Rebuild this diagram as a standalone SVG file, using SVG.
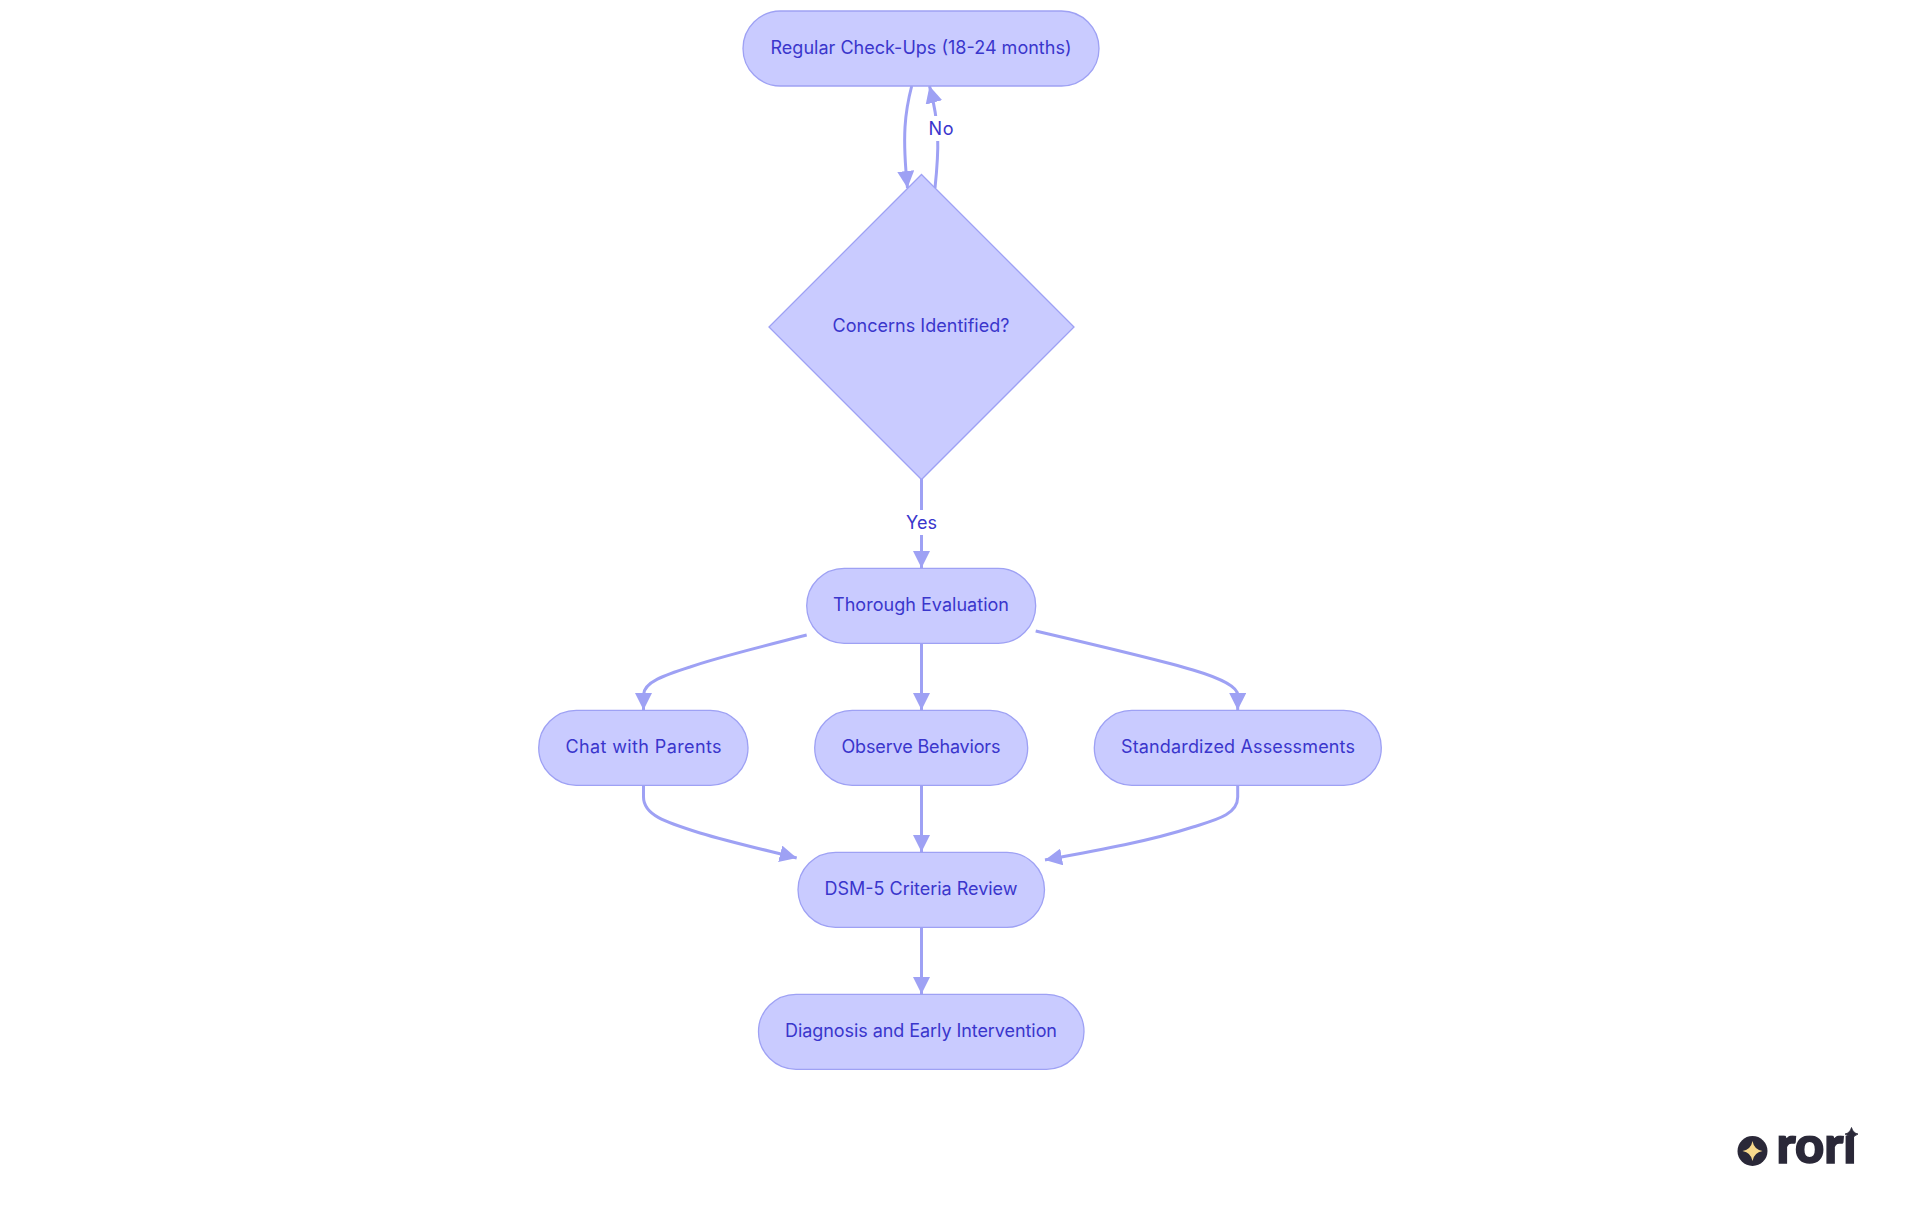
<svg xmlns="http://www.w3.org/2000/svg" width="1920" height="1215" viewBox="0 0 1920 1215">
<style>
.n{fill:#c9cbff;stroke:#9ea1f4;stroke-width:1.3}
.t{font-family:"Inter","Noto Sans","Liberation Sans",sans-serif;font-size:18px;fill:#3a36cc;text-anchor:middle}
.e{fill:none;stroke:#9ea1f4;stroke-width:3}
.b{fill:#fff}
</style>
<defs>
<marker id="a" markerUnits="userSpaceOnUse" viewBox="0 0 17 17" refX="17" refY="8.5" markerWidth="17" markerHeight="17" orient="auto"><path d="M0 0L17 8.500L0 17z" fill="#9ea1f4"/></marker>
<clipPath id="wordmark"><rect x="1770" y="1135.500" width="95" height="32"/></clipPath>
</defs>
<g id="connectors">
<path class="e" marker-end="url(#a)" d="M911.700 86C905 112 902 135 907.500 188"/>
<path class="e" marker-end="url(#a)" d="M935 188C939 150 940 125 929.500 86"/>
<path class="e" marker-end="url(#a)" d="M921.500 479V568"/>
<path class="e" marker-end="url(#a)" d="M806.700 635C760 647 715 658 690 667C665 675 643.500 682 643.500 695V710"/>
<path class="e" marker-end="url(#a)" d="M921.500 643.500V710"/>
<path class="e" marker-end="url(#a)" d="M1035.700 631C1100 646 1160 660 1193 670C1220 678 1237.700 687 1237.700 695V710"/>
<path class="e" marker-end="url(#a)" d="M643.500 785.500V797C643.500 815 665 822 700 833C730 842 765 850 796.700 858"/>
<path class="e" marker-end="url(#a)" d="M921.500 785.500V852"/>
<path class="e" marker-end="url(#a)" d="M1237.700 785.500V797C1237.700 815 1215 820 1193 827C1150 841 1100 850 1045 860"/>
<path class="e" marker-end="url(#a)" d="M921.500 927.500V994"/>
<g id="label-no"><rect class="b" x="926" y="116" width="30" height="25"/><text class="t" x="941" y="135" textLength="25">No</text></g>
<g id="label-yes"><rect class="b" x="904" y="510" width="35" height="25"/><text class="t" x="921.500" y="529" textLength="31">Yes</text></g>
</g>
<g id="checkups"><rect class="n" x="743" y="11" width="356" height="75" rx="37.500"/><text class="t" x="921" y="54" textLength="301">Regular Check-Ups (18-24 months)</text></g>
<g id="concerns"><polygon class="n" points="921.500,174.500 1074,327 921.500,479.500 769,327"/><text class="t" x="921" y="332" textLength="177">Concerns Identified?</text></g>
<g id="evaluation"><rect class="n" x="806.700" y="568.300" width="229" height="75" rx="37.500"/><text class="t" x="921" y="611" textLength="176">Thorough Evaluation</text></g>
<g id="parents"><rect class="n" x="538.700" y="710.300" width="209.300" height="75" rx="37.500"/><text class="t" x="643.500" y="753" textLength="156">Chat with Parents</text></g>
<g id="observe"><rect class="n" x="814.700" y="710.300" width="213" height="75" rx="37.500"/><text class="t" x="921" y="753" textLength="159">Observe Behaviors</text></g>
<g id="assessments"><rect class="n" x="1094.300" y="710.300" width="287" height="75" rx="37.500"/><text class="t" x="1238" y="753" textLength="234">Standardized Assessments</text></g>
<g id="dsm"><rect class="n" x="798" y="852.300" width="246.500" height="75" rx="37.500"/><text class="t" x="921" y="895" textLength="193">DSM-5 Criteria Review</text></g>
<g id="diagnosis"><rect class="n" x="758.500" y="994.300" width="325.500" height="75" rx="37.500"/><text class="t" x="921" y="1037" textLength="272">Diagnosis and Early Intervention</text></g>
<g id="logo">
<circle cx="1752.500" cy="1151" r="15" fill="#2a2838"/>
<path d="M1752.500 1141Q1754 1149.500 1762.500 1151Q1754 1152.500 1752.500 1161Q1751 1152.500 1742.500 1151Q1751 1149.500 1752.500 1141z" fill="#f8d98c"/>
<text clip-path="url(#wordmark)" x="1816.500" y="1163" font-family="Lato,'DejaVu Sans',sans-serif" font-weight="900" font-size="52" fill="#2a2838" stroke="#2a2838" stroke-width="1.500" text-anchor="middle" textLength="80" lengthAdjust="spacingAndGlyphs">rori</text>
<path d="M1851.500 1127.500Q1853 1133 1858 1134Q1853 1135.500 1851.500 1141Q1850 1135.500 1845 1134Q1850 1133 1851.500 1127.500z" fill="#2a2838" stroke="#2a2838" stroke-width="0.800"/>
</g>
</svg>
